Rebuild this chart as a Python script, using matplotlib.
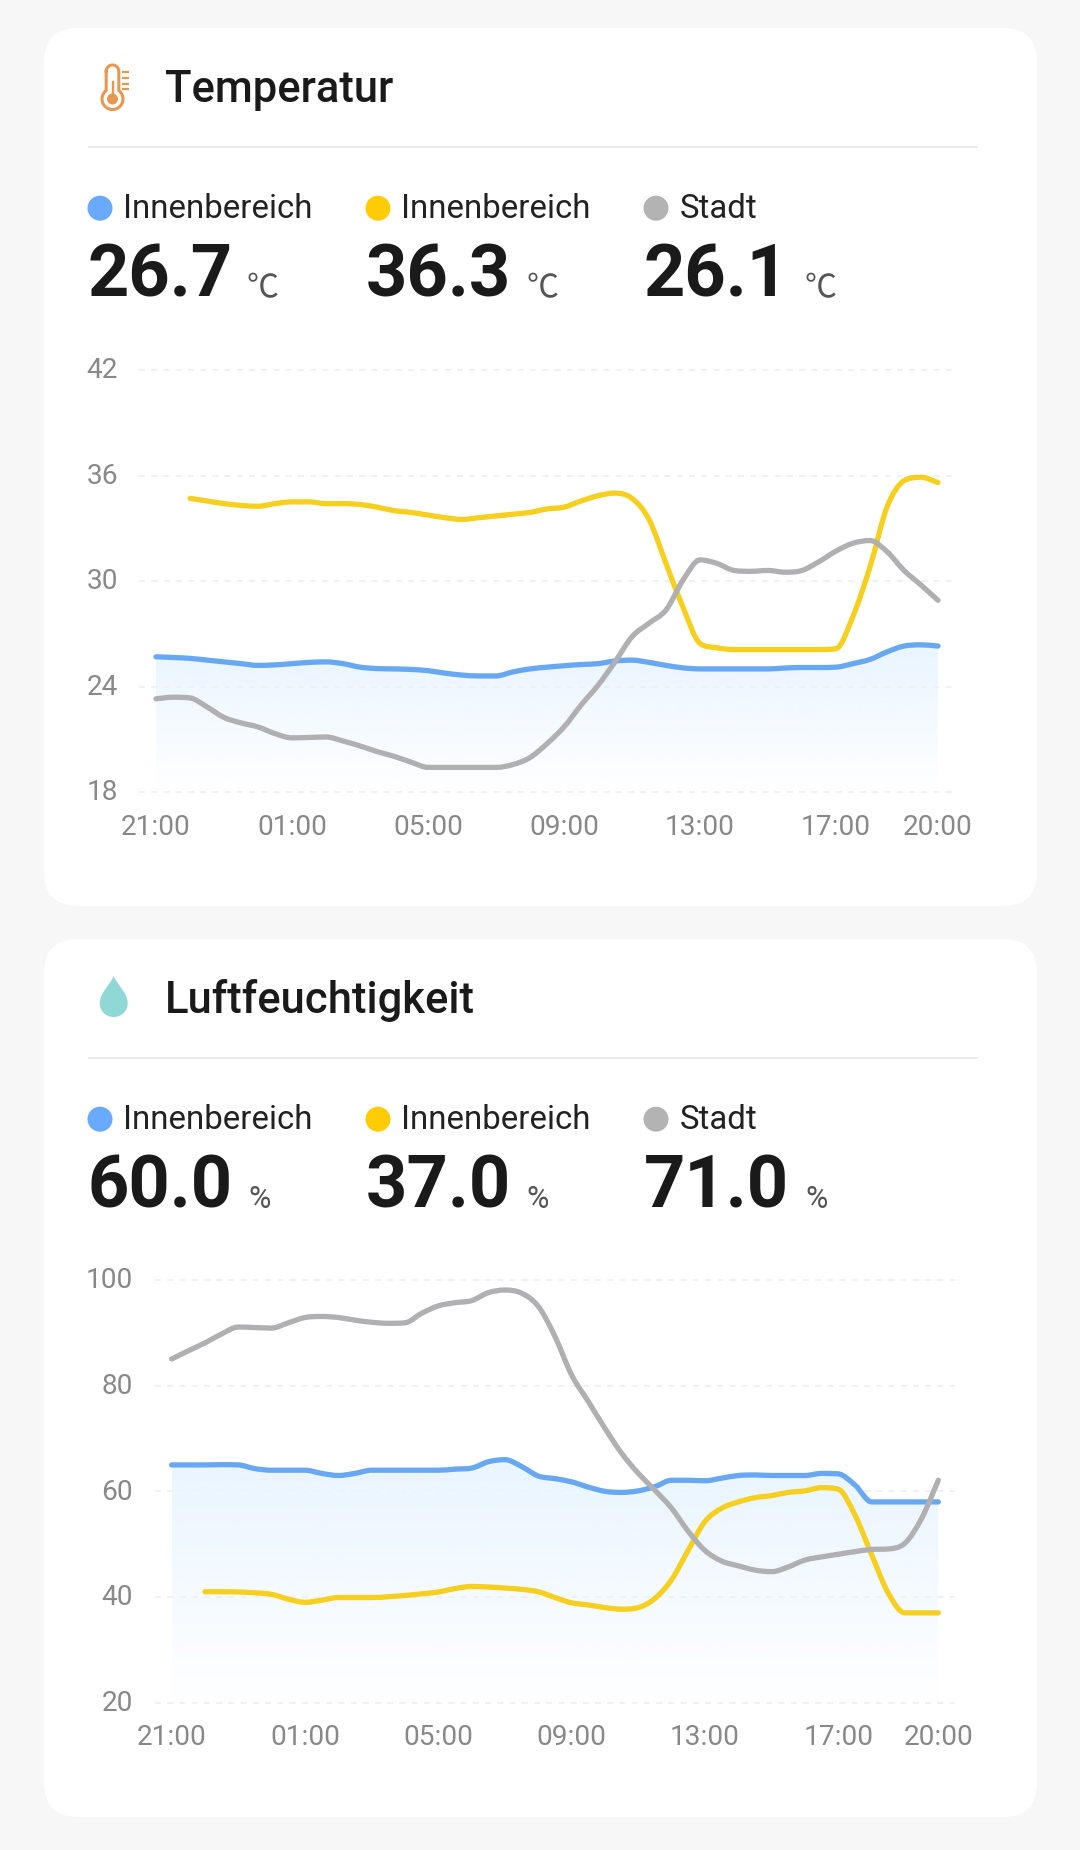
import numpy as np
import matplotlib
matplotlib.use('Agg')
import matplotlib.pyplot as plt
from matplotlib.path import Path
from matplotlib.patches import FancyBboxPatch, PathPatch, Circle
from matplotlib.transforms import ScaledTranslation

plt.rcParams['font.family'] = ['Roboto', 'DejaVu Sans']

W, H = 1080, 1850

tick_hours = [0, 4, 8, 12, 16, 20, 23]
tick_labels = ['21:00', '01:00', '05:00', '09:00', '13:00', '17:00', '20:00']
legend_names = ['Innenbereich', 'Innenbereich', 'Stadt']

temp_values = ['26.7', '36.3', '26.1']
temp_ticks = [18, 24, 30, 36, 42]
# half hour steps, blue and grey start at 21:00, yellow one hour later
temp_blue = [25.69, 25.65, 25.6, 25.5, 25.4, 25.3, 25.2, 25.23, 25.3, 25.37, 25.4, 25.3,
             25.1, 25.02, 25.0, 24.97, 24.9, 24.76, 24.65, 24.6, 24.6, 24.83, 25.0, 25.1,
             25.18, 25.25, 25.3, 25.45, 25.5, 25.37, 25.2, 25.06, 25.0, 25.0, 25.0, 25.0,
             25.0, 25.05, 25.08, 25.08, 25.1, 25.3, 25.54, 25.97, 26.3, 26.37, 26.3]
temp_yellow = [34.7, 34.55, 34.4, 34.3, 34.25, 34.4, 34.5, 34.5, 34.4, 34.4, 34.35, 34.2,
               34.0, 33.9, 33.75, 33.6, 33.5, 33.6, 33.7, 33.8, 33.9, 34.1, 34.2, 34.55,
               34.85, 35.0, 34.7, 33.5, 31.0, 28.5, 26.45, 26.2, 26.1, 26.1, 26.1, 26.1,
               26.1, 26.1, 26.15, 28.0, 30.8, 34.2, 35.7, 35.9, 35.6]
temp_grey = [23.3, 23.39, 23.35, 22.84, 22.24, 21.93, 21.7, 21.32, 21.08, 21.1, 21.13, 20.9,
             20.62, 20.3, 20.03, 19.7, 19.4, 19.4, 19.4, 19.4, 19.4, 19.56, 19.96, 20.75,
             21.7, 22.94, 24.07, 25.4, 26.83, 27.6, 28.35, 30.05, 31.2, 31.0, 30.6, 30.55,
             30.6, 30.5, 30.6, 31.1, 31.7, 32.15, 32.3, 31.67, 30.6, 29.77, 28.9]

hum_values = ['60.0', '37.0', '71.0']
hum_ticks = [20, 40, 60, 80, 100]
hum_blue = [65, 65, 65, 65.05, 65, 64.3, 64, 64, 64, 63.4, 63, 63.4,
            64, 64, 64, 64, 64, 64.2, 64.4, 65.6, 66, 64.7, 62.9, 62.4,
            61.8, 60.8, 60, 59.8, 60.1, 60.9, 62.1, 62.1, 62, 62.5, 63, 63.1,
            63, 63, 63, 63.4, 63.3, 61.2, 58, 58, 58, 58, 58]
hum_yellow = [41, 41, 40.95, 40.8, 40.5, 39.6, 39, 39.4, 39.9, 39.9, 39.9, 40.05,
              40.3, 40.6, 40.95, 41.6, 42, 41.9, 41.7, 41.45, 41, 39.9, 38.9, 38.5,
              38, 37.7, 38, 39.75, 43.3, 48.9, 54.3, 56.8, 58, 58.8, 59.2, 59.8,
              60.1, 60.7, 60.4, 55.5, 48, 40.7, 37, 37, 37]
hum_grey = [85.05, 86.6, 88.1, 89.8, 91.1, 91.0, 90.9, 91.9, 92.9, 93.1, 92.9, 92.4,
            92.0, 91.8, 91.9, 93.7, 95.1, 95.7, 96.1, 97.6, 98.1, 97.5, 95, 89.3,
            82, 77, 71.9, 67.2, 63.4, 60.2, 56.8, 52.4, 48.8, 46.8, 45.9, 45.1,
            44.8, 45.7, 47, 47.6, 48.1, 48.6, 49, 49.1, 50.2, 54.9, 62.1]

BLUE = '#68a8f3'
YELLOW = '#f6cf1f'
GREY = '#b0b0b2'
dot_colors = ['#69aaff', '#ffcc05', '#b3b3b3']


def smooth_path(x, y):
    # averaged tangents, limited so the curve does not overshoot at knees
    x = np.asarray(x, float)
    y = np.asarray(y, float)
    d = np.diff(y) / np.diff(x)
    m = np.zeros(len(y))
    m[0], m[-1] = d[0], d[-1]
    for i in range(1, len(y) - 1):
        if d[i - 1] * d[i] > 0:
            m[i] = np.sign(d[i]) * min(abs(d[i - 1] + d[i]) / 2, 3 * min(abs(d[i - 1]), abs(d[i])))
    verts = [(x[0], y[0])]
    codes = [Path.MOVETO]
    for i in range(len(x) - 1):
        h = (x[i + 1] - x[i]) / 3
        verts += [(x[i] + h, y[i] + m[i] * h), (x[i + 1] - h, y[i + 1] - m[i + 1] * h), (x[i + 1], y[i + 1])]
        codes += [Path.CURVE4] * 3
    return verts, codes


def draw_line(ax, start, values, color, z):
    x = start + 0.5 * np.arange(len(values))
    verts, codes = smooth_path(x, values)
    ax.add_patch(PathPatch(Path(verts, codes), fill=False, edgecolor=color, lw=3.8,
                           capstyle='round', joinstyle='round', zorder=z))


def draw_fill(ax, values, ymin):
    x = 0.5 * np.arange(len(values))
    verts, codes = smooth_path(x, values)
    verts = verts + [(x[-1], ymin), (x[0], ymin), (x[0], ymin)]
    codes = codes + [Path.LINETO, Path.LINETO, Path.CLOSEPOLY]
    grad = np.zeros((256, 1, 4))
    grad[:, :, :3] = matplotlib.colors.to_rgb('#e9f5ff')
    grad[:, 0, 3] = np.linspace(1, 0, 256)
    im = ax.imshow(grad, extent=(x[0], x[-1], ymin, max(values)), aspect='auto',
                   interpolation='bilinear', origin='upper', zorder=1)
    clip = PathPatch(Path(verts, codes), transform=ax.transData, fc='none', ec='none')
    ax.add_patch(clip)
    im.set_clip_path(clip)


def chart(left, right, top, bottom, yticks, blue, yellow, grey, pad_y):
    ax = fig.add_axes([left / W, 1 - bottom / H, (right - left) / W, (bottom - top) / H])
    ax.patch.set_alpha(0)
    for s in ax.spines.values():
        s.set_visible(False)
    draw_fill(ax, blue, yticks[0])
    draw_line(ax, 0, blue, BLUE, 3)
    draw_line(ax, 1, yellow, YELLOW, 4)
    draw_line(ax, 0, grey, GREY, 5)
    ax.set_xlim(-0.5, 23.5)
    ax.set_ylim(yticks[0], yticks[-1])
    ax.set_yticks(yticks)
    ax.set_xticks(tick_hours)
    ax.set_xticklabels(tick_labels)
    ax.tick_params(axis='both', length=0, labelsize=20.2, labelcolor='#888888')
    ax.tick_params(axis='y', pad=pad_y)
    ax.tick_params(axis='x', pad=15.5)
    # labels sit a little above their grid line
    for lab in ax.get_yticklabels():
        lab.set_transform(lab.get_transform() + ScaledTranslation(0, 2.2 / 100, fig.dpi_scale_trans))
    ax.grid(axis='y', color='#eeeeee', lw=1.1, ls=(0, (4, 4)), clip_on=False, zorder=0)
    ax.set_axisbelow(True)
    return ax


def header(y0, title, values, unit, unit_x, unit_size):
    # y0 is the baseline of the title
    bg.text(165, y0, title, fontsize=31.4, fontweight='medium', color='#1a1a1a', va='baseline')
    bg.plot([88, 978], [y0 + 45, y0 + 45], color='#e6e6e6', lw=1.2, solid_capstyle='butt')
    dots_x = [100, 378, 656]
    for i in range(3):
        bg.add_patch(Circle((dots_x[i], y0 + 106.5), 12.5, fc=dot_colors[i], ec='none'))
        bg.text(dots_x[i] + 23.5, y0 + 116.5, legend_names[i], fontsize=23.8, color='#222222', va='baseline')
        bg.text(dots_x[i] - 12.5, y0 + 195, values[i], fontsize=52, fontweight='bold', color='#1a1a1a', va='baseline')
        bg.text(unit_x[i], y0 + 195, unit, fontsize=unit_size, color='#555555', va='baseline',
                family=['Roboto', 'Noto Sans CJK SC', 'DejaVu Sans'])


fig = plt.figure(figsize=(W / 100, H / 100), dpi=100, facecolor='#f7f7f7')
bg = fig.add_axes([0, 0, 1, 1])
bg.set_xlim(0, W)
bg.set_ylim(H, 0)
bg.axis('off')

for top, bottom in [(28, 906), (939, 1817)]:
    r = 34
    bg.add_patch(FancyBboxPatch((44 + r, top + r), 993 - 2 * r, bottom - top - 2 * r,
                                boxstyle='round,pad=%d,rounding_size=%d' % (r, r), fc='white', ec='none'))

header(101.7, 'Temperatur', temp_values, '℃', [247, 526, 804], 23)
header(1012.7, 'Luftfeuchtigkeit', hum_values, '%', [248.5, 526.5, 805.5], 22)

# thermometer icon
ORANGE = '#e8974f'
t = np.radians(np.linspace(180, 0, 30))
stem_x = list(112.5 + 6.3 * np.cos(t))
stem_y = list(71.3 - 6.3 * np.sin(t))
t = np.radians(np.linspace(53, -233, 60))
stem_x += list(112.5 + 10.5 * np.cos(t))
stem_y += list(99 - 10.5 * np.sin(t))
bg.plot(stem_x + stem_x[:1], stem_y + stem_y[:1], color=ORANGE, lw=2.2)
bg.add_patch(Circle((112.5, 99), 5.5, fc=ORANGE, ec='none'))
bg.plot([112.5, 112.5], [82, 96], color=ORANGE, lw=1.7)
for ty in [71.7, 77.5, 83.5, 89]:
    bg.plot([122, 128.5], [ty, ty], color=ORANGE, lw=1.6, solid_capstyle='butt')

# drop icon
cx = 113.7
drop = [(cx, 976), (cx + 3, 984), (cx + 14, 993), (cx + 14, 1003), (cx + 14, 1011), (cx + 8, 1017), (cx, 1017),
        (cx - 8, 1017), (cx - 14, 1011), (cx - 14, 1003), (cx - 14, 993), (cx - 3, 984), (cx, 976)]
bg.add_patch(PathPatch(Path(drop, [Path.MOVETO] + [Path.CURVE4] * 12), fc='#8fd8d5', ec='none'))

chart(139, 955, 370, 792, temp_ticks, temp_blue, temp_yellow, temp_grey, 15)
chart(155, 955, 1280, 1702.7, hum_ticks, hum_blue, hum_yellow, hum_grey, 16)

fig.savefig('out.png', dpi=100, facecolor=fig.get_facecolor())
